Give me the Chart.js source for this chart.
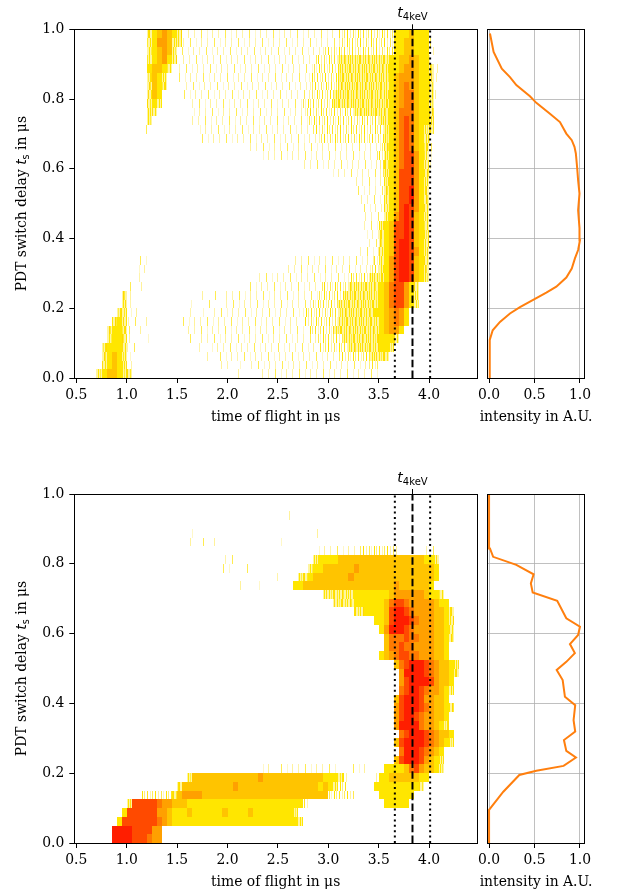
<!DOCTYPE html>
<html>
<head>
<meta charset="utf-8">
<script src="https://cdn.jsdelivr.net/npm/chart.js@4.4.1/dist/chart.umd.min.js"></script>
<style>
    body { margin: 0; background: #fff; }
    #wrap { position: relative; width: 617px; height: 894px; }
    canvas { position: absolute; }
</style>
</head>
<body>
<div id="wrap">
    <canvas id="top-map" width="480" height="430" style="left:0;top:0"></canvas>
    <canvas id="top-profile" width="147" height="430" style="left:470px;top:0"></canvas>
    <canvas id="bottom-map" width="480" height="454" style="left:0;top:440px"></canvas>
    <canvas id="bottom-profile" width="147" height="454" style="left:470px;top:440px"></canvas>
</div>
<script>
const tofTicks = [0.5, 1.0, 1.5, 2.0, 2.5, 3.0, 3.5, 4.0];
const delayTicks = [0.0, 0.2, 0.4, 0.6, 0.8, 1.0];
const intensityTicks = [0.0, 0.5, 1.0];

const t4keV = 3.835;
const tofWindow = [3.66, 4.01];

// histogram bins: tof from 0.5 us in 0.05 us steps, rows are delay bins of 0.025 us from t_s = 1 down to 0
// '.' empty, '1'-'3' sparse/dense counts, '4'-'9' yellow -> red
const tofBinStart = 0.5;
const tofBinWidth = 0.05;
const delayBinWidth = 0.025;

const topMap = [
    "..........|....345654|3.11111111|1111111111|1111111111|1122222222|2224445444|1.........",
    "..........|....346653|3111111111|1111111111|1111111111|1122222222|2224455444|1.........",
    "..........|....345653|.111111111|1111111111|1111111112|2222222222|2224455444|1.........",
    "..........|....345643|.111111111|1111111111|1111111122|2233333333|3344556544|1.........",
    "..........|....45543.|1111111111|1111111111|1111111222|2233333333|3344566544|31........",
    "..........|....3543..|1111111111|1111111111|1111112222|2233333333|3345666544|31........",
    "..........|....3543..|.111111111|1111111111|1111112222|2233333333|3345676544|31........",
    "..........|....354...|.111111111|1111111111|1111112222|2333333333|3345677544|31........",
    "..........|....343...|..11111111|1111111111|1111122222|2333333333|3345677544|31........",
    "..........|....33....|...1111111|1111111111|1111122222|2222233333|3345777544|3.........",
    "..........|....3.....|...1111111|1111111111|1111112222|2222222222|3345787544|3.........",
    "..........|...1......|....111111|1111111111|1111111222|2222222222|2345787543|3.........",
    "..........|..........|....111111|1111111111|1111111122|2222222222|2345787543|1.........",
    "..........|..........|..........|....111111|1111111111|1111111111|2345787543|1.........",
    "..........|..........|..........|.......111|1111111111|1111111111|2345788643|1.........",
    "..........|..........|..........|..........|.....11111|1111111111|2345788643|1.........",
    "..........|..........|..........|..........|..........|1111111111|2345888643|1.........",
    "..........|..........|..........|..........|..........|.....11111|1345888643|..........",
    "..........|..........|..........|..........|..........|.....11111|1345889643|..........",
    "..........|..........|..........|..........|..........|......1111|1345889643|..........",
    "..........|..........|..........|..........|..........|......1111|1345898643|..........",
    "..........|..........|..........|..........|..........|.......111|1346898543|..........",
    "..........|..........|..........|..........|..........|.......111|3458898543|..........",
    "..........|..........|..........|..........|..........|.......111|3458898543|..........",
    "..........|..........|..........|..........|..........|.......111|3458998543|..........",
    "..........|..........|..........|..........|..........|......1111|3458998643|..........",
    "..........|..11......|..........|..........|...1111111|1111111112|3468998543|..........",
    "..........|..11......|..........|..........|..11111111|1111111122|3468998543|..........",
    "..........|..1.......|..........|......1111|1111111111|1111222233|3468998543|..........",
    "..........|1.1.......|..........|....111111|1111111112|2222333333|45788643..|..........",
    ".........3|1.1.......|...1.1.1.1|1.11111111|1111111122|2223333333|45788643..|..........",
    ".........3|1.........|..1.1.1..1|1111111111|1111112222|2233333333|45788643..|..........",
    "........33|11........|..11.1.111|1111111111|1111122222|2233333334|456764....|..........",
    ".......343|11.1......|.1111.1111|1111111111|1111122222|2233333333|456764....|..........",
    "......3443|1.1.......|..111.1111|1111111111|1111112222|2333333333|45664.....|..........",
    "......3443|1.1.1.....|..1.111111|1111111111|1111111222|2223333333|4443......|..........",
    ".....34443|11........|....1.1111|1111111111|1111111122|2222333333|443.......|..........",
    ".....34543|1.........|......1.11|1111111111|1111111111|1122222233|33........|..........",
    ".....34543|11........|........11|1.1.111111|1111111111|1111111122|1.........|..........",
    "....345543|31........|..........|..1...1111|1111111111|1111111111|..........|.........."
];

const bottomMap = [
    "",
    "",
    "..........|..........|......1...|..........|..1.......",
    "",
    "..........|..........|...1......|..........|.......1..",
    "..........|..........|..1..1.1..|1.........|1.........",
    "..........|..........|..........|..........|........11|1111112222|2221.....1|1.........",
    "..........|..........|.........1|11........|.......344|4455555555|5555555554|43........",
    "..........|..........|.........1|1..1......|......3445|5555565555|5555555555|54........",
    "..........|..........|..........|.........1|....334555|5555655555|5555555555|54........",
    "..........|..........|..........|..1...1...|...4455555|5555555555|5556555555|4.........",
    "..........|..........|..........|..........|.........3|3333344444|4456666665|443.......",
    "..........|..........|..........|..........|..........|.333344444|4578876666|6544......",
    "..........|..........|..........|..........|..........|.....33444|4589987666|65543.....",
    "..........|..........|..........|..........|..........|.........4|4589998766|65543.....",
    "..........|..........|..........|..........|..........|..........|4699987666|65543.....",
    "..........|..........|..........|..........|..........|..........|.577787766|65543.....",
    "..........|..........|..........|..........|..........|..........|.577877666|6554......",
    "..........|..........|..........|..........|..........|..........|4567887766|6554......",
    "..........|..........|..........|..........|..........|..........|...5789998|765543....",
    "..........|..........|..........|..........|..........|..........|....699998|765543....",
    "..........|..........|..........|..........|..........|..........|....689999|86554.....",
    "..........|..........|..........|..........|..........|..........|....789987|66543.....",
    "..........|..........|..........|..........|..........|..........|...5899986|6554......",
    "..........|..........|..........|..........|..........|..........|...6899987|65543.....",
    "..........|..........|..........|..........|..........|..........|...6899876|6554......",
    "..........|..........|..........|..........|..........|..........|...6999976|6543......",
    "..........|..........|..........|..........|..........|..........|....789998|76554.....",
    "..........|..........|..........|..........|..........|..........|...5899998|76543.....",
    "..........|..........|..........|..........|..........|..........|....799987|654.......",
    "..........|..........|..........|..........|..........|..........|...5899986|543.......",
    "..........|..........|..........|.......11.|1111111111|11..1.11..|.444457865|543.......",
    "..........|..........|..35555555|5555556555|5555555554|4432.....1|4455555544|..........",
    "..........|..........|3555555555|5655555555|5555555545|4322.....4|444444443.|..........",
    "..........|...2222223|5666655555|5555555555|5555555555|22222.....|4444444...|..........",
    "..........|3888887665|5544444444|4444444444|444442....|..........|.44444....|..........",
    ".........4|8888886654|4454444445|4444544444|4443......",
    "........48|8888887654|4444444444|4444444444|44443.....",
    ".......999|9888866...",
    ".......999|9888766..."
];

const topProfileDelay = [0.0, 0.05, 0.109, 0.137, 0.161, 0.185, 0.203, 0.225, 0.245, 0.262, 0.288, 0.314, 0.343,
    0.367, 0.395, 0.43, 0.481, 0.529, 0.567, 0.601, 0.644, 0.663, 0.682, 0.701, 0.734, 0.758, 0.789, 0.808,
    0.84, 0.863, 0.887, 0.935, 0.988];
const topProfileIntensity = [0.0, 0.005, 0.01, 0.04, 0.12, 0.23, 0.34, 0.49, 0.63, 0.74, 0.85, 0.91, 0.945,
    0.98, 1.0, 0.995, 0.98, 0.995, 0.98, 0.97, 0.955, 0.94, 0.91, 0.85, 0.78, 0.67, 0.52, 0.45,
    0.30, 0.23, 0.14, 0.05, 0.01];

const bottomProfileDelay = [0.0, 0.095, 0.147, 0.195, 0.207, 0.221, 0.245, 0.264, 0.295, 0.319, 0.352, 0.395,
    0.419, 0.467, 0.496, 0.519, 0.544, 0.57, 0.596, 0.62, 0.644, 0.694, 0.718, 0.744, 0.77, 0.797, 0.82,
    0.844, 1.0];
const bottomProfileIntensity = [0.0, 0.0, 0.157, 0.333, 0.52, 0.82, 0.956, 0.85, 0.824, 0.948, 0.93, 0.948,
    0.835, 0.81, 0.744, 0.85, 0.944, 0.89, 0.98, 1.0, 0.85, 0.75, 0.48, 0.46, 0.49, 0.30, 0.045,
    0.01, 0.0];

// colours
const levelColors = {'4': '#ffe600', '5': '#ffc400', '6': '#ffa000', '7': '#ff7a00', '8': '#ff4a00', '9': '#ff1e00'};
const speckle = {
    '1': {base: null, bars: [[2, '#fff4a8'], [9, '#ffec50'], [15, '#fff8c8'], [20, '#fff29a']]},
    '2': {base: null, bars: [[0, '#fff07a'], [3, '#ffe41c'], [6, '#fff6b0'], [8, '#ffee58'], [11, '#ffe200'],
        [14, '#fff3a0'], [17, '#ffe84c'], [19, '#fff8c0'], [22, '#ffe600']]},
    '3': {base: '#fff5a0', bars: [[0, '#ffe600'], [2, '#ffee40'], [4, '#ffe200'], [5, '#ffdc00'], [8, '#ffea20'],
        [10, '#ffe600'], [13, '#ffd800'], [14, '#ffec30'], [17, '#ffe400'], [19, '#ffe800'], [21, '#ffdc10']]}
};
// horizontal shift of the speckle texture from row to row, so the streaks don't line up
const speckleShift = [0, 13, 5, 19, 9, 2, 16, 7, 22, 11, 4, 17, 1, 14, 8, 20, 6];
const serif = '13.9px "DejaVu Serif"';

const patternCache = {};
function cellFill(ctx, level, row) {
    if (levelColors[level]) return levelColors[level];
    if (!patternCache[level]) {
        const tile = document.createElement('canvas');
        tile.width = 24;
        tile.height = 4;
        const t = tile.getContext('2d');
        const spec = speckle[level];
        if (spec.base) {
            t.fillStyle = spec.base;
            t.fillRect(0, 0, 24, 4);
        }
        spec.bars.forEach(([bx, col]) => {
            t.fillStyle = col;
            t.fillRect(bx, 0, 1, 4);
        });
        patternCache[level] = ctx.createPattern(tile, 'repeat');
    }
    const p = patternCache[level];
    p.setTransform(new DOMMatrix().translateSelf(speckleShift[row % speckleShift.length], 0));
    return p;
}

const heatmapPlugin = {
    id: 'heatmap',
    beforeDatasetsDraw(chart, args, opts) {
        if (!opts.rows) return;
        const {ctx, chartArea: a, scales: {x, y}} = chart;
        ctx.save();
        ctx.beginPath();
        ctx.rect(a.left, a.top, a.right - a.left, a.bottom - a.top);
        ctx.clip();
        opts.rows.forEach((row, i) => {
            const cells = row.split('|').map(g => g.padEnd(10, '.').slice(0, 10)).join('').padEnd(80, '.');
            const yTop = Math.round(y.getPixelForValue(1 - delayBinWidth * i));
            const yBot = Math.round(y.getPixelForValue(1 - delayBinWidth * (i + 1)));
            let k = 0;
            while (k < cells.length) {
                const c = cells[k];
                let end = k;
                while (end + 1 < cells.length && cells[end + 1] === c) end++;
                if (c !== '.') {
                    const x0 = Math.round(x.getPixelForValue(tofBinStart + tofBinWidth * k));
                    const x1 = Math.round(x.getPixelForValue(tofBinStart + tofBinWidth * (end + 1)));
                    ctx.fillStyle = cellFill(ctx, c, i);
                    ctx.fillRect(x0, yTop, x1 - x0, yBot - yTop);
                }
                k = end + 1;
            }
        });
        ctx.restore();
    }
};

function drawParts(ctx, parts, cx, baseline) {
    let total = 0;
    parts.forEach(p => {
        ctx.font = p.font;
        p.w = ctx.measureText(p.text).width;
        total += p.w;
    });
    let x = cx - total / 2;
    parts.forEach(p => {
        ctx.font = p.font;
        ctx.fillText(p.text, x, baseline + (p.dy || 0));
        x += p.w;
    });
}

const labelPlugin = {
    id: 'labels',
    afterDraw(chart, args, opts) {
        const {ctx, chartArea: a} = chart;
        ctx.save();
        ctx.strokeStyle = '#000';
        ctx.lineWidth = 1;
        const l = Math.floor(a.left) + 0.5, r = Math.floor(a.right) + 0.5;
        const t = Math.floor(a.top) + 0.5, b = Math.floor(a.bottom) + 0.5;
        ctx.strokeRect(l, t, r - l, b - t);

        ctx.fillStyle = '#000';
        ctx.textAlign = 'left';
        ctx.textBaseline = 'alphabetic';
        if (opts.xTitle) {
            drawParts(ctx, [{text: opts.xTitle, font: serif}], (a.left + a.right) / 2, a.bottom + 43);
        }
        if (opts.yTitle) {
            ctx.save();
            ctx.translate(26, (a.top + a.bottom) / 2);
            ctx.rotate(-Math.PI / 2);
            drawParts(ctx, [
                {text: 'PDT switch delay ', font: serif},
                {text: 't', font: 'oblique 13.9px "DejaVu Sans"'},
                {text: 's', font: '9.7px "DejaVu Sans"', dy: 2.5},
                {text: ' in μs', font: serif}
            ], 0, 0);
            ctx.restore();
        }
        if (opts.mark != null) {
            const px = Math.round(chart.scales.x.getPixelForValue(opts.mark)) + 0.5;
            ctx.beginPath();
            ctx.moveTo(px, a.top);
            ctx.lineTo(px, a.top - 5);
            ctx.stroke();
            drawParts(ctx, [
                {text: 't', font: 'oblique 14px "DejaVu Sans"'},
                {text: '4keV', font: '10px "DejaVu Sans"', dy: 3}
            ], px, a.top - 12);
        }
        ctx.restore();
    }
};

function markerLine(x, dash) {
    return {
        data: [{x: x, y: 0}, {x: x, y: 1}],
        showLine: true,
        borderColor: '#000',
        borderWidth: 2,
        borderDash: dash,
        pointRadius: 0
    };
}

const tickFont = {family: 'DejaVu Serif', size: 13.9};

function makeMap(id, rows, topPad, axisHeight) {
    new Chart(document.getElementById(id), {
        type: 'scatter',
        data: {
            datasets: [
                markerLine(tofWindow[0], [2, 3.4]),
                markerLine(t4keV, [7.5, 3.2]),
                markerLine(tofWindow[1], [2, 3.4])
            ]
        },
        options: {
            responsive: false,
            animation: false,
            events: [],
            layout: {padding: {top: topPad, right: 3, left: 0, bottom: 0}},
            plugins: {
                legend: {display: false},
                tooltip: {enabled: false},
                heatmap: {rows: rows},
                labels: {xTitle: 'time of flight in μs', yTitle: true, mark: t4keV}
            },
            scales: {
                x: {
                    type: 'linear',
                    min: 0.48,
                    max: 4.475,
                    afterBuildTicks: scale => { scale.ticks = tofTicks.map(v => ({value: v})); },
                    afterFit: scale => { scale.height = axisHeight; },
                    ticks: {font: tickFont, color: '#000', padding: 4, maxRotation: 0, autoSkip: false,
                        callback: v => v.toFixed(1)},
                    grid: {drawOnChartArea: false, tickLength: 5, tickColor: '#000', tickWidth: 1},
                    border: {display: false}
                },
                y: {
                    type: 'linear',
                    min: 0,
                    max: 1,
                    afterBuildTicks: scale => { scale.ticks = delayTicks.map(v => ({value: v})); },
                    afterFit: scale => { scale.width = 74.3; },
                    ticks: {font: tickFont, color: '#000', padding: 5, callback: v => v.toFixed(1)},
                    grid: {drawOnChartArea: false, tickLength: 5, tickColor: '#000', tickWidth: 1},
                    border: {display: false}
                }
            }
        },
        plugins: [heatmapPlugin, labelPlugin]
    });
}

function makeProfile(id, delays, intensities, topPad, axisHeight) {
    new Chart(document.getElementById(id), {
        type: 'scatter',
        data: {
            datasets: [{
                data: delays.map((d, i) => ({x: intensities[i], y: d})),
                showLine: true,
                borderColor: '#ff7f0e',
                borderWidth: 2,
                pointRadius: 0
            }]
        },
        options: {
            responsive: false,
            animation: false,
            events: [],
            layout: {padding: {top: topPad, right: 32.7, left: 17.7, bottom: 0}},
            plugins: {
                legend: {display: false},
                tooltip: {enabled: false},
                labels: {xTitle: 'intensity in A.U.'}
            },
            scales: {
                x: {
                    type: 'linear',
                    min: -0.015,
                    max: 1.048,
                    afterBuildTicks: scale => { scale.ticks = intensityTicks.map(v => ({value: v})); },
                    afterFit: scale => { scale.height = axisHeight; },
                    ticks: {font: tickFont, color: '#000', padding: 4, maxRotation: 0, autoSkip: false,
                        callback: v => v.toFixed(1)},
                    grid: {color: '#b0b0b0', lineWidth: 0.8, tickLength: 5, tickColor: '#000', tickWidth: 1},
                    border: {display: false}
                },
                y: {
                    type: 'linear',
                    min: 0,
                    max: 1,
                    afterBuildTicks: scale => { scale.ticks = delayTicks.map(v => ({value: v})); },
                    afterFit: scale => { scale.width = 0; },
                    ticks: {display: false},
                    grid: {color: '#b0b0b0', lineWidth: 0.8, drawTicks: false},
                    border: {display: false}
                }
            }
        },
        plugins: [labelPlugin]
    });
}

makeMap('top-map', topMap, 29.3, 52);
makeProfile('top-profile', topProfileDelay, topProfileIntensity, 29.3, 52);
makeMap('bottom-map', bottomMap, 54, 51);
makeProfile('bottom-profile', bottomProfileDelay, bottomProfileIntensity, 54, 51);
</script>
</body>
</html>
